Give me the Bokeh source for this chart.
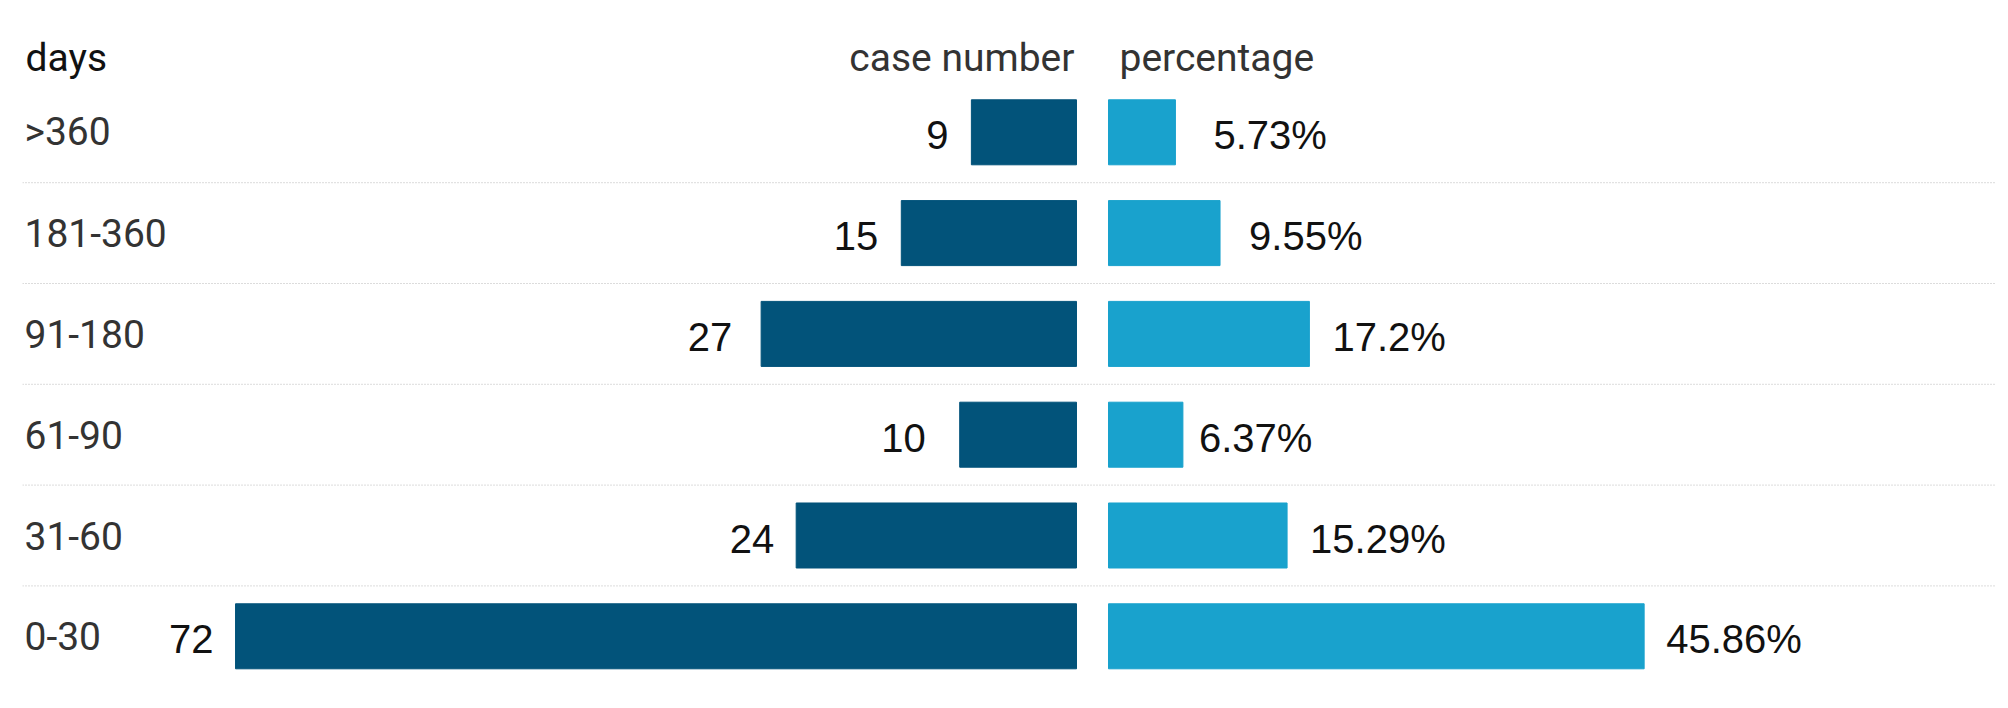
from bokeh.plotting import figure
from bokeh.models import ColumnDataSource, Range1d, Span
from bokeh.core.properties import value
from bokeh.embed import file_html
from bokeh.resources import INLINE

# ---- data ----
days = [">360", "181-360", "91-180", "61-90", "31-60", "0-30"]
case_number = [9, 15, 27, 10, 24, 72]
percentage = [5.73, 9.55, 17.2, 6.37, 15.29, 45.86]
pct_labels = ["5.73%", "9.55%", "17.2%", "6.37%", "15.29%", "45.86%"]
headers = ["days", "case number", "percentage"]

# ---- style / layout ----
DARK = "#02537a"
LIGHT = "#19a2cd"
W, H = 2000, 700
BORDER_L, BORDER_R = 22, 4
FRAME_W = W - BORDER_L - BORDER_R
PX = 11.68            # pixels per value unit (both halves)
ZERO_PX = 1054        # frame pixel where the case bars end
GAP_PX = 32           # gap between the two halves
ROW_PX = 100.8
ROW0_PX = 131.8
HEAD_PX = 57.5
case_gap = [23, 23, 29, 34, 22, 22]     # label gaps (pixels)
pct_gap = [38, 29, 23, 16, 23, 22]

x_start = -ZERO_PX / PX
x_end = (FRAME_W - ZERO_PX) / PX
light0 = GAP_PX / PX
y_top = -ROW0_PX / ROW_PX
y_bot = (H - ROW0_PX) / ROW_PX
head_y = (HEAD_PX - ROW0_PX) / ROW_PX

idx = list(range(len(days)))
src = ColumnDataSource(dict(
    y=idx,
    days=days,
    case_left=[-v for v in case_number],
    case_txt=[str(v) for v in case_number],
    case_off=[-g for g in case_gap],
    pct_right=[light0 + v for v in percentage],
    pct_txt=pct_labels,
    pct_off=pct_gap,
))
head = ColumnDataSource(dict(
    x=[x_start, 0, light0],
    y=[head_y] * 3,
    text=headers,
    off=[3, -2, 11],
    align=["left", "right", "left"],
    color=["#111111", "#333333", "#333333"],
))

p = figure(width=W, height=H, output_backend="svg", toolbar_location=None,
           x_range=Range1d(x_start, x_end), y_range=Range1d(y_bot, y_top),
           min_border_left=BORDER_L, min_border_right=BORDER_R,
           min_border_top=0, min_border_bottom=0)
p.axis.visible = False
p.grid.visible = False
p.outline_line_color = None
p.background_fill_color = "white"
p.border_fill_color = "white"

BAR_H = 0.645
p.hbar(y="y", left="case_left", right=0, height=BAR_H, source=src,
       fill_color=DARK, line_color=DARK, line_width=1)
p.hbar(y="y", left=light0, right="pct_right", height=BAR_H, source=src,
       fill_color=LIGHT, line_color=LIGHT, line_width=1)

for i in idx[:-1]:
    p.add_layout(Span(location=i + 0.5, dimension="width", line_color="#b8b8b8",
                      line_width=1, line_dash="1 2"))

# category labels
p.text(x=x_start, y="y", text="days", source=src, x_offset=2,
       text_font=value("Roboto"), text_font_size="39px", text_color="#333333",
       text_align="left", text_baseline="middle")

# value labels
p.text(x="case_left", y="y", text="case_txt", source=src, x_offset="case_off",
       y_offset=3,
       text_font=value("Liberation Sans"), text_font_size="40px", text_color="#111111",
       text_align="right", text_baseline="middle")
p.text(x="pct_right", y="y", text="pct_txt", source=src, x_offset="pct_off",
       y_offset=3,
       text_font=value("Liberation Sans"), text_font_size="40px", text_color="#111111",
       text_align="left", text_baseline="middle")

# headers
p.text(x="x", y="y", text="text", source=head, x_offset="off",
       text_font=value("Roboto"), text_font_size="39px", text_color="color",
       text_align="align", text_baseline="middle")

open("out.html", "w").write(file_html(p, INLINE))
